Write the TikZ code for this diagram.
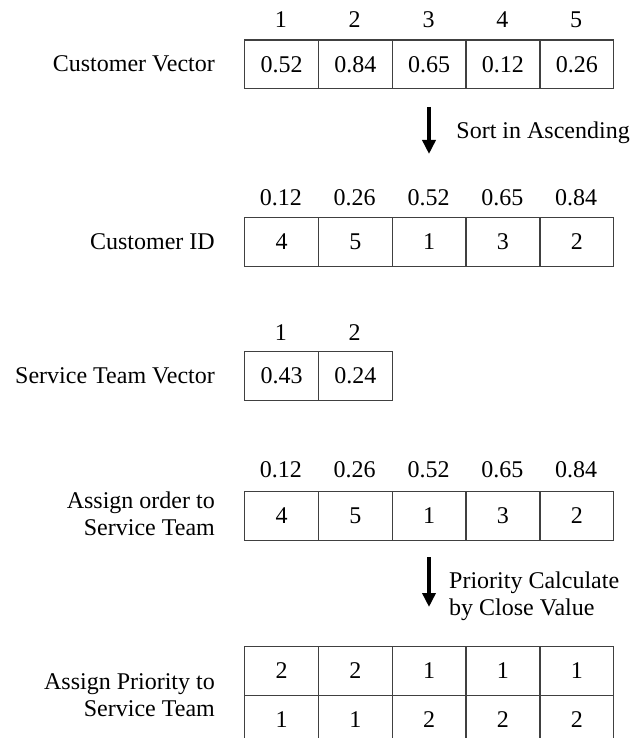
\documentclass[tikz,border=0pt]{standalone}
\usepackage{fontspec}
\setmainfont{Liberation Serif}
\usetikzlibrary{arrows.meta}
\begin{document}
\begin{tikzpicture}[x=1pt,y=-1pt,
  font=\fontsize{24}{27}\selectfont,
  cell/.style={draw=black!75, line width=1.3pt, minimum width=73.8pt, minimum height=48.5pt,
    inner sep=0pt, anchor=north west, text height=16pt, text depth=0pt},
  lab/.style={inner sep=0pt, text height=16pt, text depth=0pt},
  mlab/.style={inner sep=0pt},
  flow/.style={line width=3.5pt, -{Triangle[width=13pt,length=14pt]}}]
\useasboundingbox (0,0) rectangle (633,738);

% Table 1: Customer Vector
\foreach \v [count=\i from 0] in {0.52,0.84,0.65,0.12,0.26}
  \node[cell] (v\i) at ({244+73.8*\i},39.5) {\v};
\foreach \h [count=\i from 0] in {1,2,3,4,5}
  \node[lab] (vh\i) at ({244+36.9+73.8*\i},20) {\h};
\node[lab, anchor=east] (l1) at (215,64) {Customer Vector};

% Arrow 1
\coordinate (a1s) at (429,107);
\coordinate (a1e) at (429,154);
\draw[flow] (a1s) -- (a1e);
\node[lab, anchor=east] (s1) at (630,131) {Sort in Ascending};

% Table 2: Customer ID
\foreach \v [count=\i from 0] in {4,5,1,3,2}
  \node[cell] (d\i) at ({244+73.8*\i},217) {\v};
\foreach \h [count=\i from 0] in {0.12,0.26,0.52,0.65,0.84}
  \node[lab] (dh\i) at ({244+36.9+73.8*\i},197) {\h};
\node[lab, anchor=east] (l2) at (215,241) {Customer ID};

% Table 3: Service Team Vector
\foreach \v [count=\i from 0] in {0.43,0.24}
  \node[cell] (t\i) at ({244+73.8*\i},351) {\v};
\foreach \h [count=\i from 0] in {1,2}
  \node[lab] (th\i) at ({244+36.9+73.8*\i},332) {\h};
\node[lab, anchor=east] (l3) at (215,375) {Service Team Vector};

% Table 4: Assign order
\foreach \v [count=\i from 0] in {4,5,1,3,2}
  \node[cell] (o\i) at ({244+73.8*\i},491) {\v};
\foreach \h [count=\i from 0] in {0.12,0.26,0.52,0.65,0.84}
  \node[lab] (oh\i) at ({244+36.9+73.8*\i},469) {\h};
\node[mlab, anchor=east, align=right] (l4) at (215,513.5) {Assign order to\\Service Team};

% Arrow 2
\coordinate (a2s) at (429,557);
\coordinate (a2e) at (429,607);
\draw[flow] (a2s) -- (a2e);
\node[mlab, anchor=west, align=left] (s2) at (449,596) {Priority Calculate\\by Close Value};

% Table 5: Assign Priority
\foreach \v [count=\i from 0] in {2,2,1,1,1}
  \node[cell] (p\i) at ({244+73.8*\i},646) {\v};
\foreach \v [count=\i from 0] in {1,1,2,2,2}
  \node[cell] (q\i) at ({244+73.8*\i},694.5) {\v};
\node[mlab, anchor=east, align=right] (l5) at (215,695.5) {Assign Priority to\\Service Team};
\end{tikzpicture}
\end{document}
